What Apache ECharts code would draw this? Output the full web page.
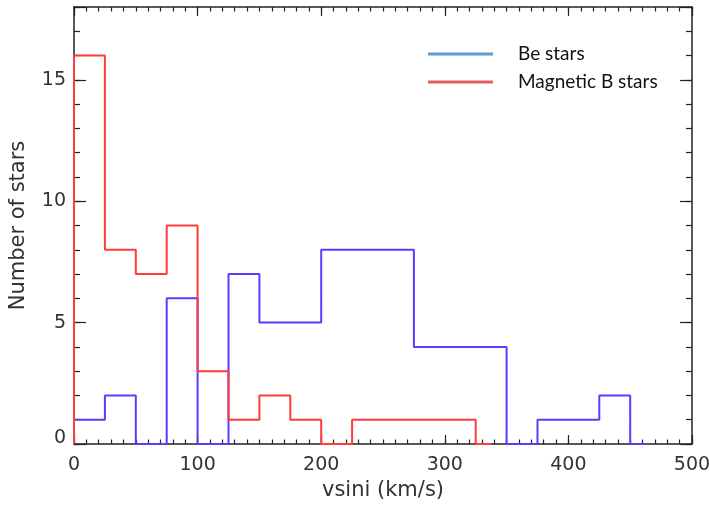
<!DOCTYPE html>
<html>
<head>
<meta charset="utf-8">
<script src="https://cdn.jsdelivr.net/npm/echarts@6/dist/echarts.min.js"></script>
<style>html,body{margin:0;padding:0;background:#fff;}#c{width:710px;height:507px;}</style>
</head>
<body>
<div id="c"></div>
<script>
// Histogram bins: width 25 km/s starting at 0
const binWidth = 25;
const beCounts  = [1, 2, 0, 6, 0, 7, 5, 5, 8, 8, 8, 4, 4, 4, 0, 1, 1, 2];   // bins 0..450
const magCounts = [16, 8, 7, 9, 3, 1, 2, 1, 0, 1, 1, 1, 1];              // bins 0..325
const seriesNames = ['Be stars', 'Magnetic B stars'];
const xTicks = [0, 100, 200, 300, 400, 500];
const yTicks = [0, 5, 10, 15];

function stepPoints(counts) {
  const pts = [[0, 0]];
  counts.forEach((c, i) => {
    pts.push([i * binWidth, c]);
    pts.push([(i + 1) * binWidth, c]);
  });
  const end = counts.length * binWidth;
  pts.push([end, 0]);
  pts.push([end + binWidth / 2, 0]);
  return pts;
}

const axisCol = '#222';
const txtCol = '#333';
const font = 'DejaVu Sans';

function xAx(pos, major, labels) {
  return {
    type: 'value', position: pos, min: 0, max: 500,
    interval: major ? 100 : 10,
    axisLine: { show: major, onZero: false, lineStyle: { color: axisCol, width: 1.5 } },
    axisTick: { show: true, inside: true, length: major ? 9 : 4.5, lineStyle: { color: axisCol, width: 1.2 } },
    axisLabel: labels ? { show: true, color: txtCol, fontFamily: font, fontSize: 19, margin: 12 } : { show: false },
    splitLine: { show: false },
    name: labels ? 'vsini (km/s)' : '',
    nameLocation: 'middle', nameGap: 36, nameMoveOverlap: false,
    nameTextStyle: { color: txtCol, fontFamily: font, fontSize: 21 }
  };
}
function yAx(pos, major, labels) {
  return {
    type: 'value', position: pos, min: 0, max: 18,
    interval: major ? 5 : 1,
    axisLine: { show: major, onZero: false, lineStyle: { color: axisCol, width: 1.5 } },
    axisTick: { show: true, inside: true, length: major ? 12 : 6, lineStyle: { color: axisCol, width: 1.2 } },
    axisLabel: labels ? {
      show: true, color: txtCol, fontFamily: font, fontSize: 19, margin: 8,
      formatter: v => (yTicks.indexOf(v) >= 0 ? (v === 0 ? '{z|0}' : String(v)) : ''),
      rich: { z: { color: txtCol, fontFamily: font, fontSize: 19, padding: [0, 0, 12, 0] } }
    } : { show: false },
    splitLine: { show: false },
    name: labels ? 'Number of stars' : '',
    nameLocation: 'middle', nameGap: 45, nameRotate: 90, nameMoveOverlap: false,
    nameTextStyle: { color: txtCol, fontFamily: font, fontSize: 21 }
  };
}

const chart = echarts.init(document.getElementById('c'), null, { renderer: 'canvas' });
chart.setOption({
  animation: false,
  backgroundColor: '#fff',
  grid: { left: 74, right: 18, top: 7, bottom: 63, containLabel: false, outerBoundsMode: 'none' },
  xAxis: [xAx('bottom', true, true), xAx('bottom', false, false), xAx('top', true, false), xAx('top', false, false)],
  yAxis: [yAx('left', true, true), yAx('left', false, false), yAx('right', true, false), yAx('right', false, false)],
  legend: {
    orient: 'vertical', left: 423, top: 38,
    itemWidth: 65, itemHeight: 3, itemGap: 6,
    textStyle: { color: '#111', fontFamily: 'Lato', fontSize: 19, lineHeight: 22, padding: [0, 0, 0, 20] },
    data: [
      { name: seriesNames[0], icon: 'rect', itemStyle: { color: '#5b9bd5' } },
      { name: seriesNames[1], icon: 'rect', itemStyle: { color: '#e06060' } }
    ]
  },
  series: [
    { name: seriesNames[0], type: 'line', xAxisIndex: 0, yAxisIndex: 0, showSymbol: false, symbol: 'none',
      data: stepPoints(beCounts), lineStyle: { color: '#5a3cff', width: 2 }, itemStyle: { color: '#5a3cff' }, z: 3 },
    { name: seriesNames[1], type: 'line', xAxisIndex: 0, yAxisIndex: 0, showSymbol: false, symbol: 'none',
      data: stepPoints(magCounts), lineStyle: { color: '#ff3b3b', width: 2 }, itemStyle: { color: '#ff3b3b' }, z: 4 }
  ]
});
</script>
</body>
</html>
